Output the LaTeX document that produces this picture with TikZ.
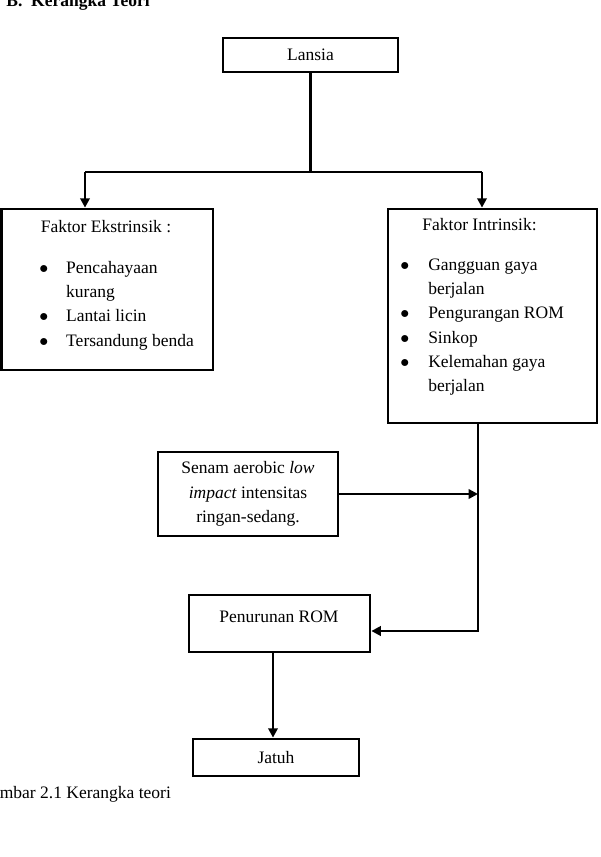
\documentclass[tikz,border=0pt]{standalone}
\usepackage{fontspec}
\setmainfont{Liberation Serif}
\usetikzlibrary{arrows.meta}

\begin{document}
\begin{tikzpicture}[x=0.8pt,y=-0.8pt,
  every node/.style={font=\fontsize{14}{19.5}\selectfont},
  box/.style={draw,line width=2.2pt,rectangle,inner sep=0pt},
  line/.style={line width=2.2pt},
  arr/.style={line width=2.2pt,-{Triangle[length=7.5pt,width=7.5pt]}}]
\useasboundingbox (0,0) rectangle (600,857);
\clip (0,0) rectangle (600,857);
\begin{scope}
\node[anchor=base west,font=\fontsize{14}{17}\selectfont\bfseries] (judul) at (2,7) {B.\hspace{7pt}Kerangka Teori};

\node[box,minimum width=140pt,minimum height=27.2pt] (lansia) at (310.5,55) {Lansia};
\node[box,minimum width=169.2pt,minimum height=128.8pt] (eks) at (107.25,289.5) {};
\node[box,minimum width=167.2pt,minimum height=171.2pt] (int) at (492.5,316) {};
\node[box,minimum width=144pt,minimum height=67.2pt,align=center] (senam) at (248,494)
   {Senam aerobic \textit{low}\\\textit{impact} intensitas\\ringan-sedang.};
\node[box,minimum width=144.8pt,minimum height=45.6pt] (turun) at (279.5,623.5) {};
\node[box,minimum width=132.8pt,minimum height=29.6pt] (jatuh) at (276,757.5) {Jatuh};

\node[anchor=base] (eksJudul) at (106,232) {Faktor Ekstrinsik :};
\node[anchor=base west,inner sep=0pt] (eksList) at (39,273)
   {\begin{tabular}[t]{@{}p{21.6pt}@{}l@{}}
    $\bullet$ & Pencahayaan\\
     & kurang\\
    $\bullet$ & Lantai licin\\
    $\bullet$ & Tersandung benda
    \end{tabular}};
\node[anchor=base west] (intJudul) at (418,230) {Faktor Intrinsik:};
\node[anchor=base west,inner sep=0pt] (intList) at (400,270)
   {\begin{tabular}[t]{@{}p{22.4pt}@{}l@{}}
    $\bullet$ & Gangguan gaya\\
     & berjalan\\
    $\bullet$ & Pengurangan ROM\\
    $\bullet$ & Sinkop\\
    $\bullet$ & Kelemahan gaya\\
     & berjalan
    \end{tabular}};
\node[anchor=base] (turunJudul) at (279,622) {Penurunan ROM};

\coordinate (cabang) at (310.5,172);
\coordinate (kiri) at (85,172);
\coordinate (kanan) at (482,172);
\coordinate (belok) at (478,631);
\coordinate (turunan) at (273,652);

\draw[line] (lansia.south) -- (cabang);
\draw[line] (kiri) -- (kanan);
\draw[arr] (kiri) -- (kiri |- eks.north);
\draw[arr] (kanan) -- (kanan |- int.north);
\draw[arr] (int.south -| belok) -- (belok) -- (turun.east |- belok);
\draw[arr] (senam.east) -- (senam.east -| belok);
\draw[arr] (turun.south -| turunan) -- (turunan |- jatuh.north);

\node[anchor=base west] (keterangan) at (-25,798) {Gambar 2.1 Kerangka teori};
\end{scope}
\end{tikzpicture}
\end{document}
